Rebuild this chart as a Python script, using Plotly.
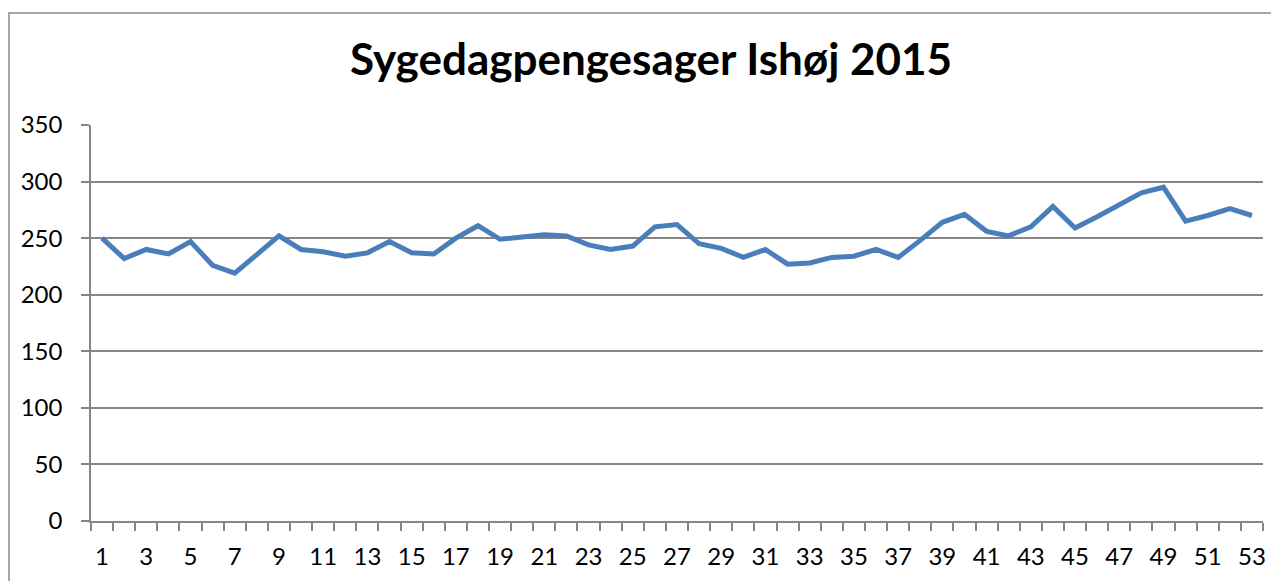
import plotly.graph_objects as go

weeks = list(range(1, 54))
cases = [250, 232, 240, 236, 247, 226, 219, 236, 252, 240,
         238, 234, 237, 247, 237, 236, 250, 261, 249, 251,
         253, 252, 244, 240, 243, 260, 262, 245, 241, 233,
         240, 227, 228, 233, 234, 240, 233, 248, 264, 271,
         256, 252, 260, 278, 259, 269, 280, 290, 295, 265,
         270, 276, 270]
x_labels = [str(w) for w in weeks[::2]]
y_ticks = [0, 50, 100, 150, 200, 250, 300, 350]

title_text = "Sygedagpengesager Ishøj 2015"
font_family = "Lato, 'Open Sans', sans-serif"

fig = go.Figure()
fig.add_trace(go.Scatter(
    x=weeks, y=cases, mode="lines",
    line=dict(color="#4A7EBB", width=5),
    showlegend=False, hoverinfo="x+y",
))

W, H = 1271, 573
fig.update_layout(
    width=W, height=H,
    margin=dict(l=83, r=16, t=117, b=60, autoexpand=False),
    paper_bgcolor="white", plot_bgcolor="white",
    font=dict(family=font_family, color="#000000", size=24),
    title=dict(text="<b>" + title_text + "</b>", x=(651 - 8) / W, xanchor="center",
               y=1 - (60 - 8) / H, yanchor="middle",
               font=dict(family=font_family, size=44, color="#000000")),
    xaxis=dict(
        range=[0.5, 53.5], tickmode="array",
        tickvals=weeks[::2], ticktext=x_labels,
        showgrid=False, zeroline=False, automargin=False,
        showline=True, linecolor="#868686", linewidth=1.5,
        ticks="", ticklabelstandoff=13,
        tickfont=dict(size=24),
        minor=dict(tickmode="linear", tick0=0.5, dtick=1, ticks="outside",
                   ticklen=8, tickcolor="#868686", tickwidth=1.5, showgrid=False),
    ),
    yaxis=dict(
        range=[0, 350], tickmode="array", tickvals=y_ticks,
        showgrid=True, gridcolor="#868686", gridwidth=1.5,
        zeroline=False, showline=True, linecolor="#868686", linewidth=1.5,
        ticks="outside", ticklen=8, tickcolor="#868686", tickwidth=1.5,
        ticklabelstandoff=14, tickfont=dict(size=24), automargin=False,
    ),
    shapes=[dict(type="rect", xref="paper", yref="paper",
                 x0=(9 - 91) / 1172, x1=1.2, y0=-0.5, y1=(521 - 13) / 396,
                 line=dict(color="#898989", width=1.5), layer="below")],
)

fig.write_html("out.html")
